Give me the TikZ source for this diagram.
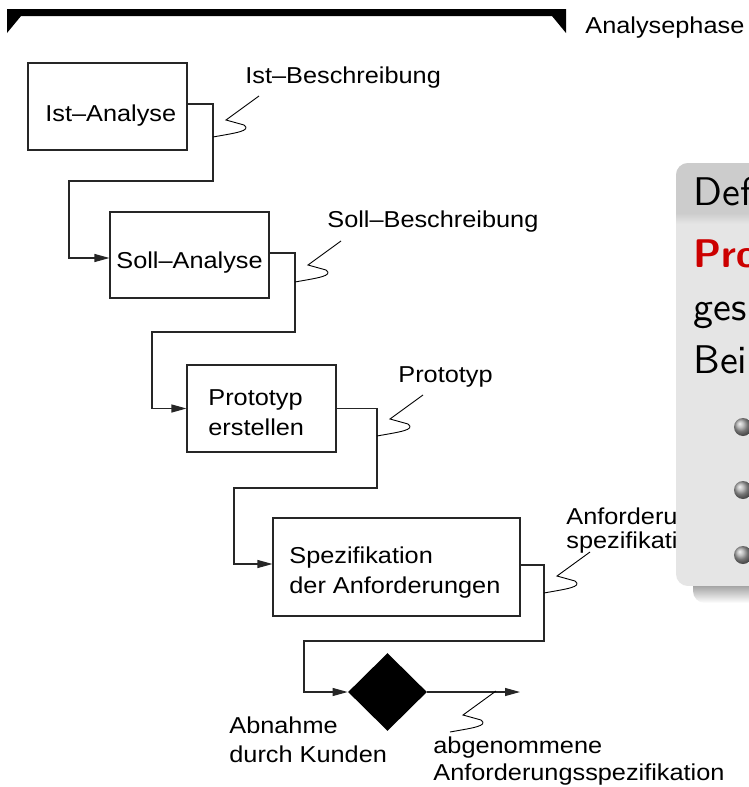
\documentclass[tikz,border=0pt]{standalone}
\usepackage{fontspec}
\newfontfamily\dfont[FakeStretch=1.1]{Liberation Sans}
\newfontfamily\blkfont[Extension=.otf,UprightFont=*-regular,BoldFont=*-bold]{lmsans10}
\usetikzlibrary{shapes.geometric,arrows.meta}
\tikzset{
  box/.style={draw=black!85, line width=0.55pt, inner sep=0pt},
  conn/.style={draw=black!85, line width=0.55pt, -{Triangle[length=7.5pt,width=4pt]}},
  lbl/.style={font=\dfont\fontsize{11.5}{13}\selectfont, inner sep=0pt, anchor=base west},
  blk/.style={font=\blkfont\fontsize{20}{24}\selectfont, inner sep=0pt, anchor=base west},
  bullet/.style={circle, inner sep=0pt, minimum size=9pt, shading=ball, ball color=black!35},
  squiggle/.pic={\draw[black, line width=0.45pt] (0,0) .. controls (22,-4) and (39,-6) .. (31,-12) -- (13,-17) -- (46,-41);}
}
\begin{document}
\begin{tikzpicture}[x=0.5pt,y=-0.5pt]
\useasboundingbox (0,0) rectangle (749,787);
\clip (0,0) rectangle (749,787);
\fill[white] (0,0) rectangle (749,787);

% top bar
\fill[black] (7,9) -- (566,9) -- (566,33) -- (552,16) -- (21,16) -- (7,33) -- cycle;
\node[lbl] (phase) at (585,33) {Analysephase};

% boxes
\node[box, minimum width=79.5pt, minimum height=43.5pt] (b1) at (107.5,106.5) {};
\node[lbl] (b1t) at (45,121) {Ist–Analyse};
\node[box, minimum width=79.5pt, minimum height=43pt] (b2) at (189.5,255) {};
\node[lbl] (b2t) at (116,268) {Soll–Analyse};
\node[box, minimum width=74.5pt, minimum height=43.5pt] (b3) at (261.5,408.5) {};
\node[lbl] (b3t1) at (208,405) {Prototyp};
\node[lbl] (b3t2) at (208,435) {erstellen};
\node[box, minimum width=123.5pt, minimum height=49pt] (b4) at (396.5,567) {};
\node[lbl] (b4t1) at (289,563) {Spezifikation};
\node[lbl] (b4t2) at (289,593) {der Anforderungen};
\node[diamond, fill=black, inner sep=0pt, minimum width=39.5pt, minimum height=39pt] (dia) at (387.5,692) {};

% connectors
\coordinate (c1a) at (213,181); \coordinate (c1b) at (69,181);
\draw[conn] ([yshift=1.25pt]b1.east) -| (c1a) -- (c1b) |- ([yshift=-1.5pt]b2.west);
\coordinate (c2a) at (295,332); \coordinate (c2b) at (152,332);
\draw[conn] ([yshift=1pt]b2.east) -| (c2a) -- (c2b) |- (b3.west);
\coordinate (c3a) at (377,488); \coordinate (c3b) at (234,488);
\draw[conn] (b3.east) -| (c3a) -- (c3b) |- ([yshift=1.5pt]b4.west);
\coordinate (c4a) at (544,641); \coordinate (c4b) at (304,641);
\draw[conn] ([yshift=1pt]b4.east) -| (c4a) -- (c4b) |- (dia.west);
\coordinate (out) at (520,692);
\draw[conn] (dia.east) -- (out);

% squiggles
\coordinate (s1) at (213,137);
\coordinate (s2) at (295,282);
\coordinate (s3) at (377,436);
\coordinate (s4) at (544,593);
\coordinate (s5) at (450,732);
\pic at (s1) {squiggle};
\pic at (s2) {squiggle};
\pic at (s3) {squiggle};
\pic at (s4) {squiggle};
\pic at (s5) {squiggle};

% labels
\node[lbl] (l1) at (245,83) {Ist–Beschreibung};
\node[lbl] (l2) at (327,227) {Soll–Beschreibung};
\node[lbl] (l3) at (398,382) {Prototyp};
\node[lbl] (l4a) at (566,524) {Anforderungs-};
\node[lbl] (l4b) at (566,548) {spezifikation};
\node[lbl] (l5a) at (229,733) {Abnahme};
\node[lbl] (l5b) at (229,762) {durch Kunden};
\node[lbl] (l6a) at (433,753) {abgenommene};
\node[lbl] (l6b) at (433,780) {Anforderungsspezifikation};

% definition block (shadow, body, title)
\shade[top color=black!60, bottom color=white, rounded corners=6pt] (693,574) rectangle (800,603);
\begin{scope}
\clip[rounded corners=6pt] (676,163) rectangle (800,586);
\fill[black!10] (676,163) rectangle (800,586);
\fill[black!20] (676,163) rectangle (800,213);
\shade[top color=black!20, bottom color=black!10] (676,213) rectangle (800,224);
\end{scope}
\node[blk] (def) at (693,205) {Def};
\node[blk, text=red!80!black] (pro) at (693,267) {\bfseries Pro};
\node[blk] (ges) at (693,320) {ges};
\node[blk] (bei) at (693,373) {Bei};
\node[bullet] (bu1) at (743,427) {};
\node[bullet] (bu2) at (743,490) {};
\node[bullet] (bu3) at (743,555) {};
\end{tikzpicture}
\end{document}
